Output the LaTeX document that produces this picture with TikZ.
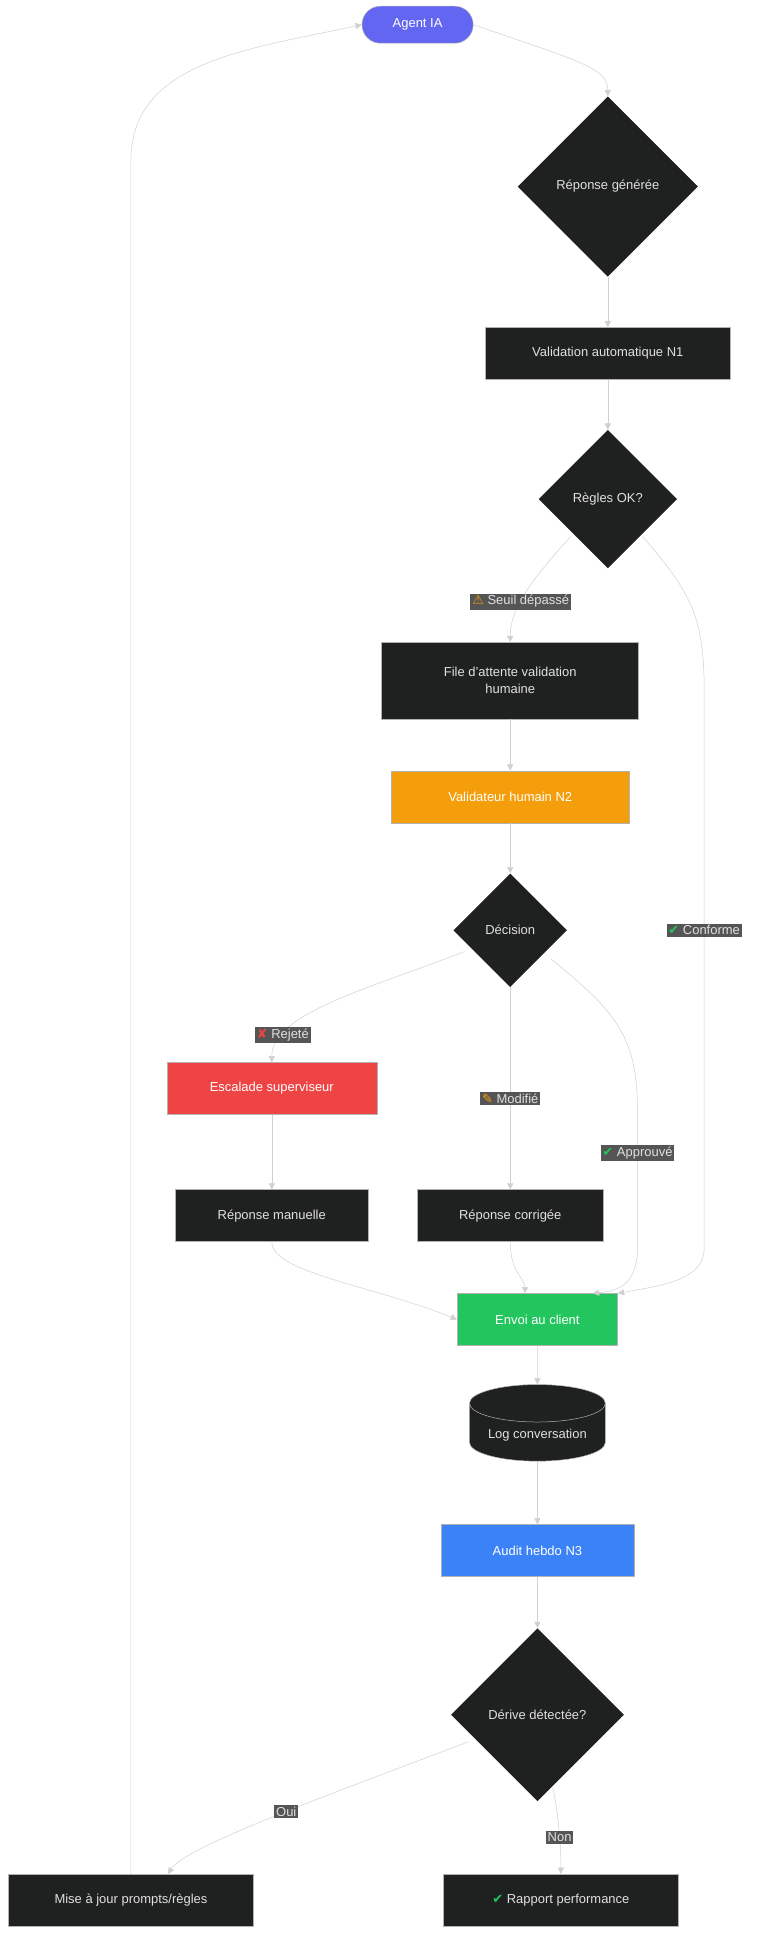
\documentclass[tikz,border=0pt]{standalone}
\usepackage{fontspec}
\setmainfont{Liberation Sans}
\newfontfamily\symfont{DejaVu Sans}
\usepackage{tikz}
\usetikzlibrary{calc}
\usetikzlibrary{shapes.geometric,arrows.meta,positioning}
\definecolor{boxbg}{HTML}{1F2020}
\definecolor{txt}{HTML}{E0E0E0}
\definecolor{edge}{HTML}{D0D0D0}
\definecolor{lbl}{HTML}{555555}
\definecolor{agentc}{HTML}{6366F1}
\definecolor{orangec}{HTML}{F59E0B}
\definecolor{redc}{HTML}{EF4444}
\definecolor{greenc}{HTML}{22C55E}
\definecolor{bluec}{HTML}{3B82F6}
\begin{document}
\begin{tikzpicture}[x=1pt,y=-1pt,
    box/.style={draw=gray!60,fill=boxbg,text=txt,minimum height=42pt,font=\fontsize{10.5}{14}\selectfont,align=center},
    dia/.style={diamond,aspect=1,fill=boxbg,text=txt,inner sep=0pt,font=\fontsize{10.5}{12}\selectfont},
    lab/.style={fill=lbl,text=txt,inner sep=1.5pt,font=\fontsize{10.5}{12}\selectfont},
    link/.style={draw=edge,-{Triangle[length=5pt,width=5pt]}}]
      \useasboundingbox (0,0) rectangle (620,1576);
      \node[box,rounded corners=15pt,fill=agentc,text=white,minimum width=90pt,minimum height=30pt] (agent) at (338,20) {Agent IA};
      \node[dia,minimum size=146pt] (rep) at (492,151) {Réponse générée};
      \node[box,minimum width=198pt] (valn1) at (492,286) {Validation automatique N1};
      \node[dia,minimum size=112pt] (regles) at (492,404) {Règles OK?};
      \node[box,minimum width=208pt,minimum height=62pt] (file) at (413,551) {File d'attente validation\\humaine};
      \node[box,fill=orangec,text=white,minimum width=192pt] (valn2) at (413,645) {Validateur humain N2};
      \node[dia,minimum size=92pt] (dec) at (413,753) {Décision};
      \node[box,fill=redc,text=white,minimum width=170pt] (esc) at (220,881) {Escalade superviseur};
      \node[box,minimum width=156pt] (man) at (220,984) {Réponse manuelle};
      \node[box,minimum width=150pt] (corr) at (413,984) {Réponse corrigée};
      \node[box,fill=greenc,text=white,minimum width=130pt] (envoi) at (435,1068) {Envoi au client};
      \node[cylinder,shape border rotate=90,aspect=0.35,draw=gray!60,fill=boxbg,text=txt,minimum width=110pt,minimum height=62pt,font=\fontsize{10.5}{12}\selectfont] (log) at (435,1162) {Log conversation};
      \node[box,fill=bluec,text=white,minimum width=156pt] (audit) at (435,1255) {Audit hebdo N3};
      \node[dia,minimum size=140pt] (derive) at (435,1388) {Dérive détectée?};
      \node[box,minimum width=198pt] (maj) at (106,1538) {Mise à jour prompts/règles};
      \node[box,minimum width=190pt] (rapport) at (454,1538) {{\symfont\color{greenc}✔} Rapport performance};
      % edges
      \draw[link] (agent.east) .. controls (470,50) and (492,55) .. (rep.north);
      \draw[link] (rep) -- (valn1);
      \draw[link] (valn1) -- (regles);
      \draw[link] ($(regles.south)+(-30,-26)$) .. controls (425,475) and (413,495) .. node[lab,pos=0.55] (seuil) {{\symfont\color{orangec}⚠} Seuil dépassé} (file.north);
      \draw[link] ($(regles.south)+(28,-26)$) .. controls (560,480) and (570,500) .. (570,560) -- (570,1010) .. controls (570,1035) and (540,1040) .. (envoi.north east);
      \node[lab] (conf) at (570,753) {{\symfont\color{greenc}✔} Conforme};
      \draw[link] (file) -- (valn2);
      \draw[link] (valn2) -- (dec);
      \draw[link] ($(dec.south)+(-37,-29)$) .. controls (300,800) and (220,820) .. node[lab,pos=0.8] (rej) {{\symfont\color{redc}✘} Rejeté} (esc.north);
      \draw[link] (dec) -- node[lab,pos=0.55] (modif) {{\symfont\color{orangec}✎} Modifié} (corr);
      \draw[link] ($(dec.south)+(33,-23)$) .. controls (500,820) and (516,840) .. (516,900) -- (516,1010) .. controls (516,1040) and (500,1045) .. ($(envoi.north)+(45,0)$);
      \node[lab] (appr) at (516,933) {{\symfont\color{greenc}✔} Approuvé};
      \draw[link] (esc) -- (man);
      \draw[link] (man.south) .. controls (220,1030) and (300,1040) .. (envoi.west);
      \draw[link] (corr.south) .. controls (413,1030) and (425,1035) .. ($(envoi.north)+(-10,0)$);
      \draw[link] (envoi) -- (log);
      \draw[link] (log) -- (audit);
      \draw[link] (audit) -- (derive);
      \draw[link] ($(derive.west)+(14,22)$) .. controls (260,1455) and (150,1495) .. node[lab,pos=0.45] (oui) {Oui} ($(maj.north)+(30,0)$);
      \draw[link] (derive.-78) .. controls (452,1470) and (454,1490) .. node[lab,pos=0.6] (non) {Non} (rapport.north);
      \draw[link] (maj.north) -- (106,130) .. controls (106,50) and (200,40) .. (agent.west);
    \end{tikzpicture}
\end{document}
